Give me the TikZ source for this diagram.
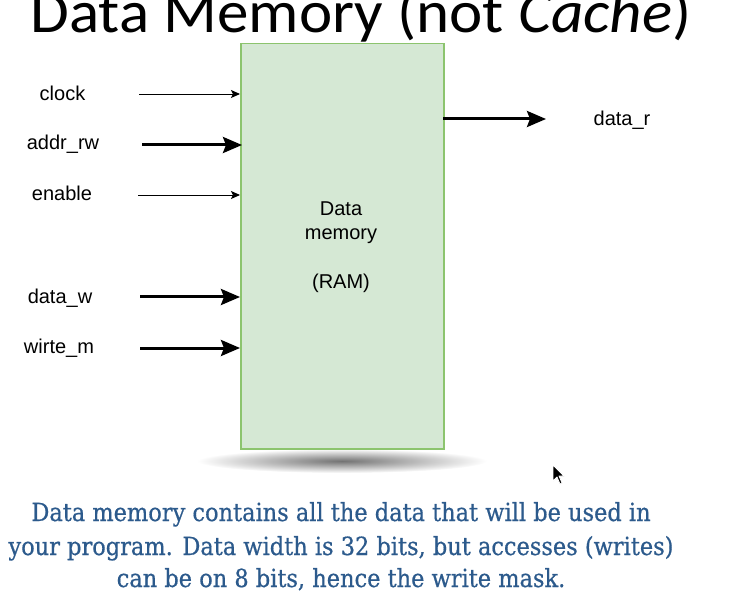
\documentclass[tikz,border=0pt]{standalone}
\usepackage{fontspec}
\setmainfont{Liberation Sans}
\newfontfamily\titlefont{Carlito}
\newfontfamily\notefont[FakeBold=0.6]{DejaVu Serif Condensed}
\usetikzlibrary{arrows.meta}
\definecolor{boxfill}{RGB}{213,232,212}
\definecolor{boxline}{RGB}{140,196,110}
\definecolor{noteblue}{RGB}{44,90,140}
\tikzset{
  lbl/.style={font=\fontsize{20}{23}\selectfont, inner sep=0pt, anchor=base},
  thin/.style={line width=0.9pt, -{Stealth[length=9pt,width=8pt,inset=2pt]}},
  thick/.style={line width=3pt, -{Stealth[length=19pt,width=16pt,inset=3pt]}},
  note/.style={font=\notefont\fontsize{25}{28}\selectfont, text=noteblue, inner sep=0pt, anchor=base}
}
\begin{document}
\begin{tikzpicture}[x=1pt,y=-1pt]
\useasboundingbox (0,0) rectangle (738,593);
\clip (0,0) rectangle (738,593);
% title
\node[font=\titlefont\fontsize{60}{66}\selectfont, inner sep=0pt, anchor=base, xscale=1.05] (title) at (361,33) {Data Memory (not \textit{Cache})};
% shadow
\shade[inner color=black!55, outer color=white] (342,461) ellipse [x radius=145, y radius=12];
% box
\node[draw=boxline, fill=boxfill, line width=1.5pt, minimum width=203pt, minimum height=405pt, inner sep=0pt, anchor=north west] (mem) at (240,43) {};
\node[lbl] (d1) at (341,216) {Data};
\node[lbl] (d2) at (341,240) {memory};
\node[lbl] (d3) at (341,289) {(RAM)};
% labels
\node[lbl] (clock) at (62.5,100.5) {clock};
\node[lbl] (addr) at (63,150) {addr\_rw};
\node[lbl] (enable) at (62,201) {enable};
\node[lbl] (dataw) at (60,303) {data\_w};
\node[lbl] (wirte) at (59,353) {wirte\_m};
\node[lbl] (datar) at (622,126) {data\_r};
% arrow start coordinates
\coordinate (c1) at (139,94);
\coordinate (c2) at (142,145);
\coordinate (c3) at (138,195);
\coordinate (c4) at (140,297);
\coordinate (c5) at (140,348);
\coordinate (o1) at (443,119);
\coordinate (o2) at (546,119);
\draw[thin] (c1) -- (c1 -| mem.west);
\draw[thick] (c2) -- ([xshift=2pt]c2 -| mem.west);
\draw[thin] (c3) -- (c3 -| mem.west);
\draw[thick] (c4) -- (c4 -| mem.west);
\draw[thick] (c5) -- (c5 -| mem.west);
\draw[thick] (o1) -- (o2);
% cursor
\draw[fill=black, draw=white, line width=0.8pt, line join=round] (553,465) -- (553,481) -- (557,477) -- (560,484) -- (562,483) -- (559,476) -- (564,476) -- cycle;
% note
\node[note] (n1) at (341,521) {Data memory contains all the data that will be used in};
\node[note] (n2) at (341,555) {your program. Data width is 32 bits, but accesses (writes)};
\node[note] (n3) at (341,587) {can be on 8 bits, hence the write mask.};
\end{tikzpicture}
\end{document}
